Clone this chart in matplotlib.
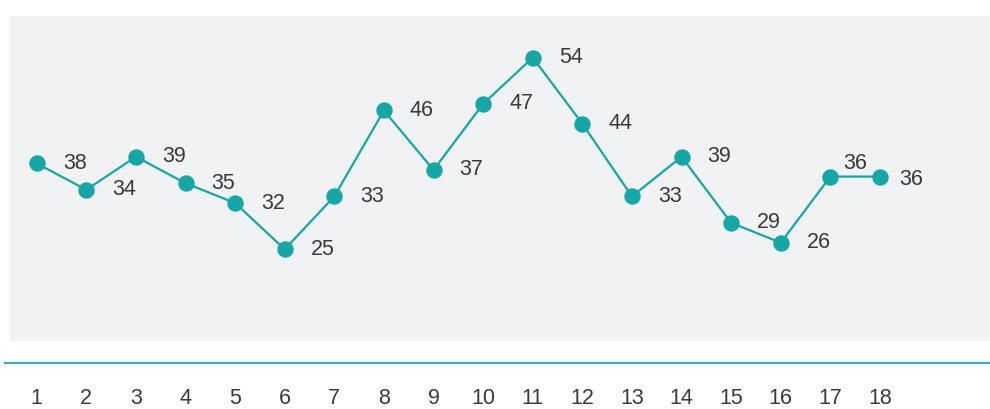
import numpy as np
import matplotlib.pyplot as plt

# data
periods = list(range(1, 19))
values = [38, 34, 39, 35, 32, 25, 33, 46, 37, 47, 54, 44, 33, 39, 29, 26, 36, 36]
tick_labels = [str(p) for p in periods]

teal = '#17a6a6'
text_col = '#3a3a3a'
plt.rcParams['font.family'] = ['Liberation Sans', 'DejaVu Sans']

fig = plt.figure(figsize=(9.9, 4.09), dpi=100)
W, H = 990, 409

# main panel (gray background)
ax = fig.add_axes([10 / W, (H - 340.7) / H, 980 / W, 325 / H])
ax.set_facecolor('#f1f2f4')
for s in ax.spines.values():
    s.set_visible(False)
ax.set_xlim(0.462, 20.218)
ax.set_ylim(11.17, 60.34)
ax.set_xticks([])
ax.set_yticks([])

ax.plot(periods, values, color=teal, lw=1.6, marker='o', ms=10.8,
        markerfacecolor=teal, markeredgecolor=teal, zorder=3)

# label offsets in pixels (most sit to the right of the point)
special = {16: (25, 13), 17: (31, -3)}
for i, (x, v) in enumerate(zip(periods, values)):
    dx, dy = special.get(i, (38, 0))
    ax.annotate(str(v), (x, v), xytext=(dx, dy), textcoords='offset pixels',
                ha='center', va='center', fontsize=15.5, color=text_col)

# bottom axis: teal rule with period labels
ax2 = fig.add_axes([5 / W, (H - 363.3) / H, 985 / W, 0.0001])
ax2.set_facecolor('none')
for k in ['top', 'left', 'right']:
    ax2.spines[k].set_visible(False)
ax2.spines['bottom'].set_color('#3aadae')
ax2.spines['bottom'].set_linewidth(1.6)
ax2.set_xlim(0.361, 20.218)
ax2.set_yticks([])
ax2.set_xticks(periods)
ax2.set_xticklabels(tick_labels, fontsize=15.5, color=text_col)
ax2.tick_params(axis='x', length=0, pad=18)

fig.savefig('out.png', dpi=100)
